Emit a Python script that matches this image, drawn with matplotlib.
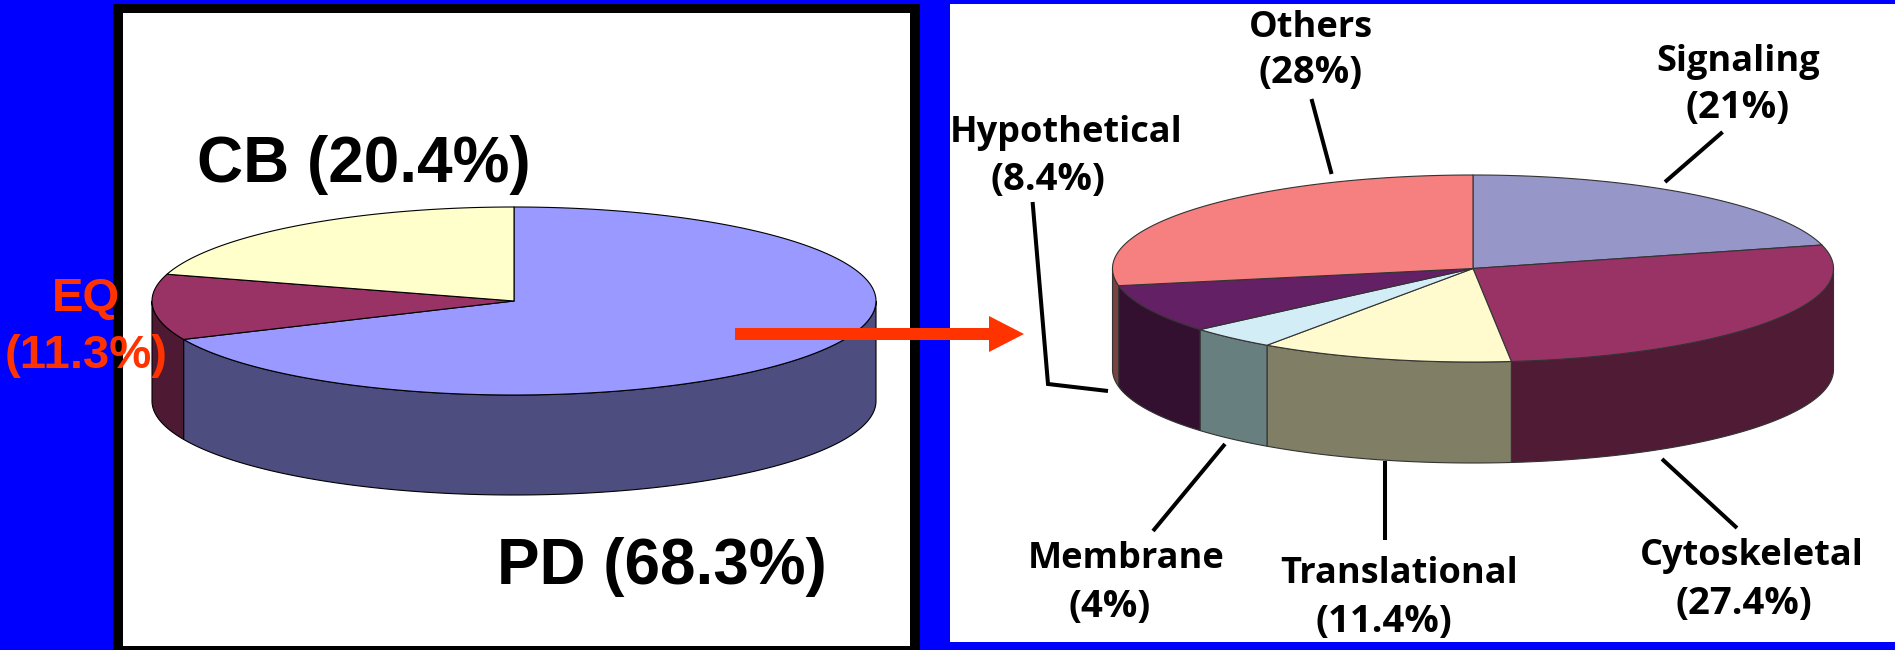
import numpy as np
import matplotlib
matplotlib.use("Agg")
import matplotlib.pyplot as plt
from matplotlib.patches import Polygon, Rectangle

# fractions of the left pie, clockwise from 12 o'clock
tissue_names = ["PD", "EQ", "CB"]
tissue_values = [68.3, 11.3, 20.4]
tissue_top = ["#9999FF", "#993366", "#FFFFCC"]
tissue_side = ["#4D4D80", "#4D1933", "#80805F"]

# fractions of the right pie, clockwise from 12 o'clock
class_names = ["Signaling", "Cytoskeletal", "Translational", "Membrane", "Hypothetical", "Others"]
class_values = [21, 27.4, 11.4, 4, 8.4, 28]
class_top = ["#9696C8", "#993366", "#FFFBCF", "#D2EDF5", "#642064", "#F67F7F"]
class_side = ["#4B4B64", "#4F1B35", "#807F65", "#687F7F", "#330F30", "#7B4040"]


def arc(cx, cy, rx, ry, start, stop, drop=0):
    # angles in radians, measured clockwise from the top of the ellipse
    n = max(int(abs(stop - start) * 60), 2)
    t = np.linspace(start, stop, n)
    return np.column_stack([cx + rx * np.sin(t), cy - ry * np.cos(t) + drop])


def pie3d(ax, values, top, side, cx, cy, rx, ry, depth, edge):
    fracs = np.array(values, dtype=float)
    edges = np.concatenate([[0], np.cumsum(fracs) / fracs.sum()]) * 2 * np.pi

    # wall first, only the part facing the viewer
    for a, b, col in zip(edges[:-1], edges[1:], side):
        lo, hi = max(a, np.pi / 2), min(b, 3 * np.pi / 2)
        if hi <= lo:
            continue
        upper = arc(cx, cy, rx, ry, lo, hi)
        lower = arc(cx, cy, rx, ry, lo, hi, depth)
        ax.add_patch(Polygon(np.vstack([upper, lower[::-1]]), closed=True,
                             facecolor=col, edgecolor=edge, linewidth=0.8, zorder=2))

    for a, b, col in zip(edges[:-1], edges[1:], top):
        rim = arc(cx, cy, rx, ry, a, b)
        ax.add_patch(Polygon(np.vstack([[cx, cy], rim]), closed=True,
                             facecolor=col, edgecolor=edge, linewidth=0.8,
                             joinstyle="round", zorder=3))


fig = plt.figure(figsize=(18.95, 6.5), dpi=100, facecolor="#0000FF")
ax = fig.add_axes([0, 0, 1, 1])
ax.set_xlim(0, 1895)
ax.set_ylim(650, 0)
ax.axis("off")

# panels
ax.add_patch(Rectangle((113, 4), 807, 650, facecolor="black", edgecolor="none", zorder=0))
ax.add_patch(Rectangle((123, 13), 787, 633, facecolor="white", edgecolor="none", zorder=1))
ax.add_patch(Rectangle((950, 4), 945, 638, facecolor="white", edgecolor="none", zorder=1))

pie3d(ax, tissue_values, tissue_top, tissue_side, 514, 301, 362, 94, 100, "#000000")
pie3d(ax, class_values, class_top, class_side, 1473, 268.5, 360.5, 93.5, 101, "#333333")

# left pie labels
bold = dict(family="Liberation Sans", fontweight="bold", zorder=6)
ax.text(197, 182, f"{tissue_names[2]} ({tissue_values[2]}%)", fontsize=46, color="black",
        ha="left", va="baseline", **bold)
ax.text(497, 584, f"{tissue_names[0]} ({tissue_values[0]}%)", fontsize=46, color="black",
        ha="left", va="baseline", **bold)
ax.text(86, 311, tissue_names[1], fontsize=34, color="#FF3300", ha="center", va="baseline", **bold)
ax.text(86, 368, f"({tissue_values[1]}%)", fontsize=34, color="#FF3300", ha="center", va="baseline", **bold)

# arrow between the panels
ax.add_patch(Rectangle((735, 328), 255, 12, facecolor="#FF3300", edgecolor="none", zorder=5))
ax.add_patch(Polygon([(989, 316), (1024, 334), (989, 352)], closed=True,
                     facecolor="#FF3300", edgecolor="none", zorder=5))

# right pie labels and their leader lines: name x, name baseline, percent x, percent baseline
label_pos = [(1738, 71, 1738, 118), (1752, 565, 1744, 614), (1399, 583, 1384, 632),
             (1126, 568, 1110, 617), (1066, 142, 1048, 190), (1311, 37, 1311, 83)]
for name, val, (x1, y1, x2, y2) in zip(class_names, class_values, label_pos):
    ax.text(x1, y1, name, family="Open Sans", fontweight="bold", fontsize=26, color="black",
            ha="center", va="baseline", zorder=6)
    ax.text(x2, y2, f"({val}%)", family="Open Sans", fontweight="bold", fontsize=27.5, color="black",
            ha="center", va="baseline", zorder=6)

leaders = [
    ([1722.6, 1665], [132, 182]),
    ([1662, 1737], [459, 528]),
    ([1385, 1385], [461, 540]),
    ([1225, 1153], [444, 531]),
    ([1032.6, 1048, 1108], [202, 384, 391]),
    ([1311.5, 1331.6], [99, 174]),
]
for xs, ys in leaders:
    ax.plot(xs, ys, color="black", linewidth=2.9, solid_capstyle="butt",
            solid_joinstyle="miter", zorder=4)

fig.savefig("out.png", dpi=100, facecolor=fig.get_facecolor())
